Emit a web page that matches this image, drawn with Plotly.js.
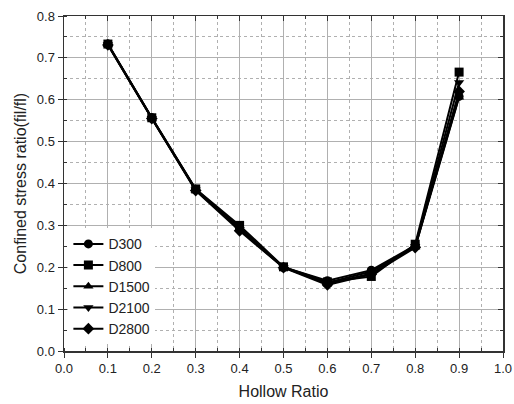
<!DOCTYPE html>
<html>
<head>
<meta charset="utf-8">
<script src="https://cdn.plot.ly/plotly-3.0.1.min.js"></script>
<style>html,body{margin:0;padding:0;background:#fff;}#chart{width:514px;height:404px;}</style>
</head>
<body>
<div id="chart"></div>
<script>
var hollowRatio = [0.1, 0.2, 0.3, 0.4, 0.5, 0.6, 0.7, 0.8, 0.9];
var seriesNames = ["D300", "D800", "D1500", "D2100", "D2800"];
var D300  = [0.733, 0.557, 0.386, 0.295, 0.200, 0.168, 0.193, 0.252, 0.608];
var D800  = [0.733, 0.557, 0.387, 0.300, 0.201, 0.165, 0.178, 0.255, 0.666];
var D1500 = [0.732, 0.556, 0.384, 0.292, 0.199, 0.163, 0.190, 0.248, 0.606];
var D2100 = [0.732, 0.556, 0.385, 0.290, 0.200, 0.160, 0.185, 0.250, 0.641];
var D2800 = [0.731, 0.555, 0.383, 0.287, 0.199, 0.158, 0.183, 0.247, 0.620];
var seriesValues = [D300, D800, D1500, D2100, D2800];
var symbols = ["circle", "square", "triangle-up", "triangle-down", "diamond"];
var xTickVals = [0,0.1,0.2,0.3,0.4,0.5,0.6,0.7,0.8,0.9,1.0];
var xTickText = ["0.0","0.1","0.2","0.3","0.4","0.5","0.6","0.7","0.8","0.9","1.0"];
var yTickVals = [0,0.1,0.2,0.3,0.4,0.5,0.6,0.7,0.8];
var yTickText = ["0.0","0.1","0.2","0.3","0.4","0.5","0.6","0.7","0.8"];

var traces = seriesNames.map(function(n, i) {
  return {
    x: hollowRatio, y: seriesValues[i], name: n, type: "scatter", mode: "lines+markers",
    line: {color: "#000", width: 2},
    marker: {symbol: symbols[i], size: 9, color: "#000"}
  };
});

var gridCol = "#b0b0b0";
var axisCol = "#333";
var font = {family: "Liberation Sans, Arial, sans-serif", size: 13, color: "#222"};

var layout = {
  width: 514, height: 404,
  margin: {l: 64, r: 11, t: 16, b: 53},
  paper_bgcolor: "#fff", plot_bgcolor: "#fff",
  font: font,
  showlegend: true,
  legend: {x: 0.01, y: 0.02, xanchor: "left", yanchor: "bottom", bgcolor: "#fff",
           borderwidth: 0, font: {family: font.family, size: 14, color: "#222"},
           tracegroupgap: 0, itemwidth: 30},
  xaxis: {
    range: [0, 1], tickvals: xTickVals, ticktext: xTickText,
    showgrid: true, gridcolor: gridCol, gridwidth: 1,
    showline: true, linecolor: axisCol, linewidth: 1.5,
    ticks: "outside", ticklen: 5, tickcolor: axisCol,
    zeroline: false,
    minor: {dtick: 0.05, showgrid: true, gridcolor: gridCol, griddash: "dot", gridwidth: 1,
            ticks: "inside", ticklen: 3, tickcolor: axisCol},
    title: {text: "Hollow Ratio", font: {family: font.family, size: 16, color: "#222"}, standoff: 10}
  },
  yaxis: {
    range: [0, 0.8], tickvals: yTickVals, ticktext: yTickText,
    showgrid: true, gridcolor: gridCol, gridwidth: 1,
    showline: true, linecolor: axisCol, linewidth: 1.5,
    ticks: "outside", ticklen: 5, tickcolor: axisCol,
    zeroline: false,
    minor: {dtick: 0.05, showgrid: true, gridcolor: gridCol, griddash: "dot", gridwidth: 1,
            ticks: "inside", ticklen: 3, tickcolor: axisCol},
    title: {text: "Confined stress ratio(fil/fl)", font: {family: font.family, size: 16, color: "#222"}, standoff: 6}
  },
  xaxis2: {
    overlaying: "x", side: "top", range: [0, 1], tickvals: xTickVals,
    showticklabels: false, showgrid: false, zeroline: false,
    showline: true, linecolor: axisCol, linewidth: 1.5,
    ticks: "inside", ticklen: 5, tickcolor: axisCol,
    minor: {dtick: 0.05, ticks: "inside", ticklen: 3, tickcolor: axisCol, showgrid: false}
  },
  yaxis2: {
    overlaying: "y", side: "right", range: [0, 0.8], tickvals: yTickVals,
    showticklabels: false, showgrid: false, zeroline: false,
    showline: true, linecolor: axisCol, linewidth: 1.5,
    ticks: "inside", ticklen: 5, tickcolor: axisCol,
    minor: {dtick: 0.05, ticks: "inside", ticklen: 3, tickcolor: axisCol, showgrid: false}
  }
};

traces.push({x: [0.5], y: [0.4], xaxis: "x2", yaxis: "y2", mode: "markers",
             marker: {opacity: 0}, showlegend: false, hoverinfo: "skip", type: "scatter"});

Plotly.newPlot("chart", traces, layout, {staticPlot: true});
</script>
</body>
</html>
